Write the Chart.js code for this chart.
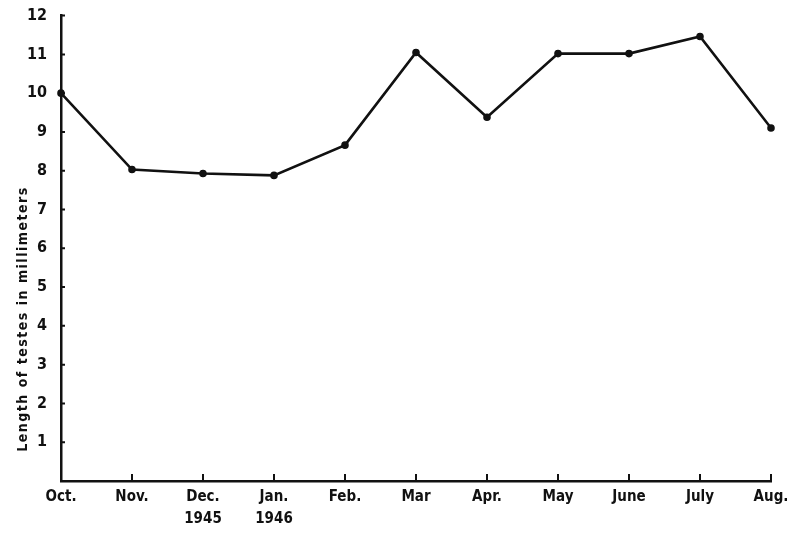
<!DOCTYPE html>
<html>
<head>
<meta charset="utf-8">
<script src="https://cdn.jsdelivr.net/npm/chart.js@4/dist/chart.umd.min.js"></script>
<style>
  html, body { margin: 0; padding: 0; background: #fff; }
  #wrap { width: 800px; height: 533px; }
</style>
</head>
<body>
<div id="wrap"><canvas id="chart" width="800" height="533"></canvas></div>
<script>
// Monthly testis length, Oct. 1945 - Aug. 1946
const months = ['Oct.', 'Nov.', ['Dec.', '1945'], ['Jan.', '1946'], 'Feb.', 'Mar', 'Apr.', 'May', 'June', 'July', 'Aug.'];
const lengthMm = [10.0, 8.03, 7.93, 7.88, 8.66, 11.05, 9.38, 11.02, 11.02, 11.46, 9.1];
const yTicks = [1, 2, 3, 4, 5, 6, 7, 8, 9, 10, 11, 12];
const yTitle = 'Length of testes in millimeters';

const FONT = "'DejaVu Sans Condensed', 'DejaVu Sans', sans-serif";

// ticks on this old plot point inward, so draw them by hand from the scales
const innerTicks = {
  id: 'innerTicks',
  afterDatasetsDraw(chart) {
    const ctx = chart.ctx;
    const x = chart.scales.x, y = chart.scales.y;
    ctx.save();
    ctx.strokeStyle = '#111';
    ctx.lineWidth = 2;
    ctx.beginPath();
    yTicks.forEach(v => {
      const py = y.getPixelForValue(v);
      ctx.moveTo(x.left, py);
      ctx.lineTo(x.left + 4, py);
    });
    months.forEach((m, i) => {
      if (i === 0) return;
      const px = x.getPixelForValue(i);
      ctx.moveTo(px, y.bottom);
      ctx.lineTo(px, y.bottom - 7);
    });
    ctx.stroke();

    // axis title, sits a bit below centre like the original
    ctx.fillStyle = '#111';
    ctx.font = 'bold 14px ' + FONT;
    ctx.letterSpacing = '1.5px';
    ctx.textAlign = 'center';
    ctx.textBaseline = 'middle';
    ctx.translate(23, y.bottom - 162);
    ctx.rotate(-Math.PI / 2);
    ctx.fillText(yTitle, 0, 0);
    ctx.restore();
  }
};

new Chart(document.getElementById('chart'), {
  type: 'line',
  data: {
    labels: months,
    datasets: [{
      data: lengthMm,
      borderColor: '#111',
      backgroundColor: '#111',
      borderWidth: 2.6,
      pointRadius: 2.5,
      pointBackgroundColor: '#111',
      tension: 0
    }]
  },
  options: {
    responsive: false,
    animation: false,
    layout: { padding: { top: 15, right: 29, left: 0, bottom: 0 } },
    plugins: { legend: { display: false }, tooltip: { enabled: false } },
    scales: {
      x: {
        offset: false,
        grid: { display: false },
        border: { display: true, color: '#111', width: 2.5 },
        ticks: {
          color: '#111',
          font: { family: FONT, size: 15, weight: 'bold', lineHeight: 1.45 },
          padding: -3,
          maxRotation: 0,
          autoSkip: false
        },
        afterFit(scale) { scale.height = 52; }
      },
      y: {
        min: 0,
        max: 12,
        grid: { display: false },
        border: { display: true, color: '#111', width: 2.5 },
        afterBuildTicks(scale) { scale.ticks = yTicks.map(v => ({ value: v })); },
        ticks: {
          color: '#111',
          font: { family: FONT, size: 16, weight: 'bold' },
          padding: 6
        },
        afterFit(scale) { scale.width = 61; }
      }
    }
  },
  plugins: [innerTicks]
});
</script>
</body>
</html>
